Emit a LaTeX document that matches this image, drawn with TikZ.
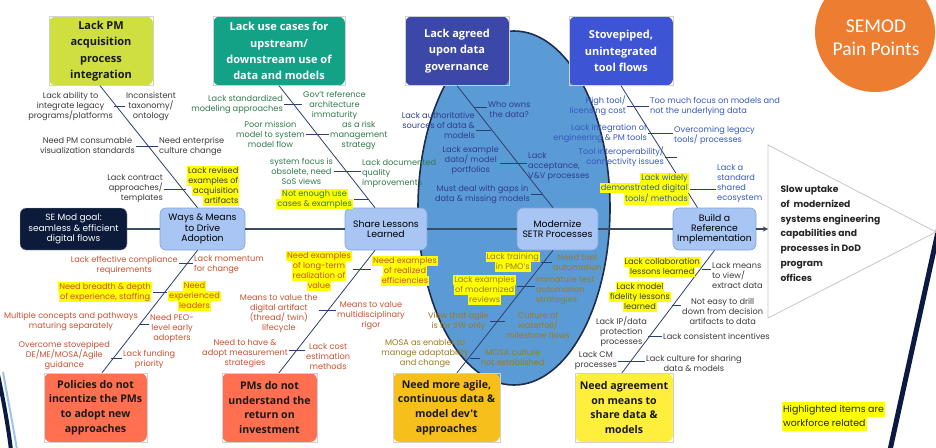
\documentclass[tikz,border=0pt]{standalone}
\usepackage{fontspec}
\setmainfont{Poppins}
\newfontfamily\titlefont{Open Sans}
\newfontfamily\badgefont{Carlito}
\setlength{\fboxsep}{0pt}
\definecolor{pmlime}{RGB}{206,223,63}
\definecolor{usecase}{RGB}{19,162,133}
\definecolor{govern}{RGB}{60,72,168}
\definecolor{stove}{RGB}{61,85,213}
\definecolor{policy}{RGB}{255,111,80}
\definecolor{agile}{RGB}{247,191,28}
\definecolor{agree}{RGB}{255,238,59}
\definecolor{stagefill}{RGB}{168,197,243}
\definecolor{stageedge}{RGB}{125,163,224}
\definecolor{goalfill}{RGB}{12,27,58}
\definecolor{lensfill}{RGB}{91,155,213}
\definecolor{lensedge}{RGB}{30,44,78}
\definecolor{bonecol}{RGB}{44,62,110}
\definecolor{spinecol}{RGB}{59,74,102}
\definecolor{badgeorange}{RGB}{237,125,49}
\definecolor{slidenavy}{RGB}{11,26,64}
\definecolor{hlyellow}{RGB}{255,255,0}
\definecolor{textdark}{RGB}{58,58,58}
\definecolor{textgreen}{RGB}{47,122,74}
\definecolor{textnavy}{RGB}{46,60,140}
\definecolor{textblue}{RGB}{53,88,190}
\definecolor{textred}{RGB}{201,80,47}
\definecolor{textolive}{RGB}{154,123,31}
\newcommand{\hlt}[1]{\colorbox{hlyellow}{\kern1pt\strut#1\kern1pt}}
\begin{document}
\begin{tikzpicture}[x=1pt, y=-1pt,
    lbl/.style={font=\fontsize{8.2}{10}\selectfont, inner sep=1pt},
    cause/.style={rounded corners=7pt, minimum height=69pt, align=center, inner sep=2pt,
      font=\titlefont\bfseries\fontsize{11}{16.3}\selectfont},
    causelow/.style={cause, font=\titlefont\bfseries\fontsize{10.6}{14.7}\selectfont},
    boxframe/.style={draw=black!18, line width=0.5pt},
    stage/.style={rounded corners=6pt, fill=stagefill, draw=stageedge, line width=0.6pt,
      minimum height=42pt, align=center, inner sep=2pt, font=\fontsize{9.3}{10.3}\selectfont},
    bone/.style={draw=bonecol, line width=0.8pt},
    rib/.style={draw=bonecol, line width=0.9pt},
    spine/.style={draw=spinecol, line width=1.3pt}]
  \useasboundingbox (0,0) rectangle (936,447);
  % slide decoration
  \draw[line width=2pt, lensfill!60] (3,372) .. controls (8,400) and (13,425) .. (17,450);
  \draw[line width=4pt, slidenavy] (-3,370) .. controls (3,398) and (8,425) .. (11,450);
  \draw[line width=5pt, slidenavy] (941,218) -- (890,450);
  % SETR lens
  \draw[fill=lensfill, draw=lensedge, line width=1.6pt] (514,208) ellipse [x radius=96pt, y radius=177pt];
  % badge
  \fill[badgeorange] (875,32) circle (60pt);
  \node[font=\badgefont\fontsize{19.5}{23}\selectfont, text=white, align=center] (badge) at (876,38) {SEMOD\\ Pain Points};
  % effect
  \draw[fill=white, draw=black!22, line width=0.8pt] (768,145) -- (936,232) -- (768,318) -- cycle;
  \coordinate (effect) at (768,229);
  \node[font=\bfseries\fontsize{9.2}{14.8}\selectfont, text=black!85, align=left, anchor=west] (effecttext) at (777,233.5)
    {Slow uptake\\ of~ modernized\\ systems engineering\\ capabilities and\\ processes in DoD\\ program\\ offices};
  % cause boxes
  \node[cause, fill=pmlime, text=black!90, minimum width=104pt] (pm) at (101,51) {Lack PM\\ acquisition\\ process\\ integration};
  \node[cause, fill=usecase, text=white, minimum width=132pt] (usecases) at (279,51) {Lack use cases for\\ upstream/\\ downstream use of\\ data and models};
  \node[cause, fill=govern, text=white, minimum width=104pt] (govern) at (457,51) {Lack agreed\\ upon data\\ governance};
  \node[cause, fill=stove, text=white, minimum width=104pt] (stove) at (621,51) {Stovepiped,\\ unintegrated\\ tool flows};
  \node[causelow, fill=policy, text=black!90, minimum width=103pt] (policy) at (95.5,407.5) {Policies do not\\ incentize the PMs\\ to adopt new\\ approaches};
  \node[causelow, fill=policy, text=black!90, minimum width=95pt] (roi) at (269.5,407.5) {PMs do not\\ understand the\\ return on\\ investment};
  \node[causelow, fill=agile, text=black!90, minimum width=107pt] (agile) at (446.5,407.5) {Need more agile,\\ continuous data \&\\ model dev't\\ approaches};
  \node[causelow, fill=agree, text=black!90, minimum width=98pt] (agree) at (624,407.5) {Need agreement\\ on means to\\ share data \&\\ models};
  \draw[boxframe] (pm.north west) rectangle (pm.south east);
  \draw[boxframe] (usecases.north west) rectangle (usecases.south east);
  \draw[boxframe] (govern.north west) rectangle (govern.south east);
  \draw[boxframe] (stove.north west) rectangle (stove.south east);
  \draw[boxframe] (policy.north west) rectangle (policy.south east);
  \draw[boxframe] (roi.north west) rectangle (roi.south east);
  \draw[boxframe] (agile.north west) rectangle (agile.south east);
  \draw[boxframe] (agree.north west) rectangle (agree.south east);
  % spine
  \node[rounded corners=6pt, fill=goalfill, draw=black!30, minimum width=107pt, minimum height=42pt, align=center,
    text=white, font=\fontsize{9}{10.4}\selectfont] (goal) at (73.5,229) {SE Mod goal:\\ seamless \& efficient\\ digital flows};
  \node[stage, minimum width=85pt] (ways) at (202.5,229) {Ways \& Means\\ to Drive\\ Adoption};
  \node[stage, minimum width=82pt] (share) at (386,229) {Share Lessons\\ Learned};
  \node[stage, minimum width=81pt] (setr) at (557.5,229) {Modernize\\ SETR Processes};
  \node[stage, minimum width=83pt] (refimpl) at (714.5,229) {Build a\\ Reference\\ Implementation};
  \draw[spine] (goal) -- (ways) -- (share) -- (setr) -- (refimpl);
  \draw[spine, -stealth] (refimpl) -- (effect);
  % bones
  \draw[bone] ([xshift=-1pt]pm.south) -- ([xshift=-5pt]ways.north);
  \draw[bone] (usecases.south) -- ([xshift=-11pt]share.north);
  \draw[bone] (govern.south) -- ([xshift=-4.5pt]setr.north);
  \draw[bone] (stove.south) -- ([xshift=-17pt]refimpl.north);
  \draw[bone] ([xshift=-5pt]ways.south) -- ([xshift=6.5pt]policy.north);
  \draw[bone] ([xshift=-11pt]share.south) -- ([xshift=9.5pt]roi.north);
  \draw[bone] ([xshift=-4.5pt]setr.south) -- ([xshift=10.5pt]agile.north);
  \draw[bone] (refimpl.south) -- ([xshift=-2pt]agree.north);
  % Lack PM acquisition process integration
  \node[lbl, text=textdark, align=center, anchor=east] (a1l) at (114,106) {Lack ability to\\ integrate legacy\\ programs/platforms};
  \node[lbl, text=textdark, align=center, anchor=west] (a1r) at (125,106) {Inconsistent\\ taxonomy/\\ ontology};
  \draw[rib] (a1l.east) -- (a1r.west);
  \node[lbl, text=textdark, align=center, anchor=east] (a2l) at (136,146) {Need PM consumable\\ visualization standards};
  \node[lbl, text=textdark, align=left, anchor=west] (a2r) at (158,146) {Need enterprise\\ culture change};
  \draw[rib] (a2l.east) -- (a2r.west);
  \node[lbl, text=textdark, align=right, anchor=east] (a3l) at (164,189) {Lack contract\\ approaches/\\ templates};
  \node[lbl, text=textdark, align=right, anchor=west] (a3r) at (186,186) {\hlt{Lack revised}\\ \hlt{examples of}\\ \hlt{acquisition}\\ \hlt{artifacts}};
  \draw[rib] (a3l.east) -- (a3l.east -| a3r.west);
  % Lack use cases
  \node[lbl, text=textgreen, align=right, anchor=east] (b1l) at (284,104) {Lack standardized\\ modeling approaches};
  \node[lbl, text=textgreen, align=center, anchor=west] (b1r) at (302,105) {Gov't reference\\ architecture\\ immaturity};
  \draw[rib] (b1l.east) -- (b1l.east -| b1r.west);
  \node[lbl, text=textgreen, align=center, anchor=east] (b2l) at (306,134) {Poor mission\\ model to system\\ model flow};
  \node[lbl, text=textgreen, align=center, anchor=west] (b2r) at (329,135) {as a risk\\ management\\ strategy};
  \draw[rib] (b2l.east) -- (b2l.east -| b2r.west);
  \node[lbl, text=textgreen, align=center, anchor=east] (b3l) at (334,171) {system focus is\\ obsolete, need\\ SoS views};
  \node[lbl, text=textgreen, align=left, anchor=west] (b3r) at (361,174) {Lack documented\\ quality\\ improvements};
  \draw[rib] (b3l.east) -- (b3l.east -| b3r.west);
  \node[lbl, text=textgreen, align=center, anchor=east] (b4l) at (354,199) {\hlt{Not enough use}\\ \hlt{cases \& examples}};
  \coordinate (b4r) at (368,199);
  \draw[rib] (b4l.east) -- (b4r);
  % Lack agreed upon data governance
  \coordinate (c1l) at (474,107);
  \node[lbl, text=textnavy, align=center, anchor=west] (c1r) at (487,110) {Who owns\\ the data?};
  \draw[rib] (c1l) -- (c1l -| c1r.west);
  \node[lbl, text=textnavy, align=right, anchor=east] (c2l) at (476,125) {Lack authoritative\\ sources of data \&\\ models};
  \coordinate (c2r) at (491,130);
  \draw[rib] (c2l.east |- c2r) -- (c2r);
  \node[lbl, text=textnavy, align=center, anchor=east] (c3l) at (500,161) {Lack example\\ data/ model\\ portfolios};
  \node[lbl, text=textnavy, align=left, anchor=west] (c3r) at (527,167) {Lack\\ acceptance,\\ V\&V processes};
  \draw[rib] ([yshift=-2pt]c3l.east) -- ([yshift=-2pt]c3l.east -| c3r.west);
  \node[lbl, text=textnavy, align=center, anchor=east] (c4l) at (531,194) {Must deal with gaps in\\ data \& missing models};
  \coordinate (c4r) at (542,194);
  \draw[rib] (c4l.east) -- (c4r);
  % Stovepiped tool flows
  \node[lbl, text=textblue, align=right, anchor=east] (d1l) at (627,106) {High tool/\\ licensing cost};
  \node[lbl, text=textblue, align=left, anchor=west] (d1r) at (649,106) {Too much focus on models and\\ not the underlying data};
  \draw[rib] (d1l.east) -- (d1r.west);
  \node[lbl, text=textblue, align=right, anchor=east] (d2l) at (648,133) {Lack integration of\\ engineering \& PM tools};
  \node[lbl, text=textblue, align=left, anchor=west] (d2r) at (673,135) {Overcoming legacy\\ tools/ processes};
  \draw[rib] (d2l.east) -- (d2l.east -| d2r.west);
  \node[lbl, text=textblue, align=right, anchor=east] (d3l) at (665,157) {Tool interoperability/\\ connectivity issues};
  \coordinate (d3r) at (677,157);
  \draw[rib] (d3l.east) -- (d3r);
  \node[lbl, text=textblue, align=right, anchor=east] (d4l) at (690,189) {\hlt{Lack widely}\\ \hlt{demonstrated digital}\\ \hlt{tools/ methods}};
  \node[lbl, text=textblue, align=left, anchor=west] (d4r) at (716,184) {Lack a\\ standard\\ shared\\ ecosystem};
  \draw[rib] (d4l.east) -- (d4l.east -| d4r.west);
  % Policies do not incentize
  \node[lbl, text=textred, align=center, anchor=east] (e1l) at (179,265) {Lack effective compliance\\ requirements};
  \node[lbl, text=textred, align=left, anchor=west] (e1r) at (193,265) {Lack momentum\\ for change};
  \draw[rib] ([yshift=2pt]e1l.east) -- ([yshift=2pt]e1l.east -| e1r.west);
  \node[lbl, text=textred, align=center, anchor=east] (e2l) at (153,292) {\hlt{Need breadth \& depth}\\ \hlt{of experience, staffing}};
  \node[lbl, text=textred, align=center, anchor=west] (e2r) at (167,296) {\hlt{Need}\\ \hlt{experienced}\\ \hlt{leaders}};
  \draw[rib] (e2l.east) -- (e2l.east -| e2r.west);
  \node[lbl, text=textred, align=center, anchor=east] (e3l) at (139,321) {Multiple concepts and pathways\\ maturing separately};
  \node[lbl, text=textred, align=center, anchor=west] (e3r) at (149,329) {Need PEO-\\ level early\\ adopters};
  \draw[rib] ([yshift=-3pt]e3l.east) -- ([yshift=-3pt]e3l.east -| e3r.west);
  \node[lbl, text=textred, align=center, anchor=east] (e4l) at (111,355) {Overcome stovepiped\\ DE/ME/MOSA/Agile\\ guidance};
  \node[lbl, text=textred, align=center, anchor=west] (e4r) at (122,359) {Lack funding\\ priority};
  \draw[rib] ([yshift=-3pt]e4l.east) -- ([yshift=-3pt]e4l.east -| e4r.west);
  % PMs do not understand ROI
  \node[lbl, text=textred, align=center, anchor=east] (f1l) at (353,271) {\hlt{Need examples}\\ \hlt{of long-term}\\ \hlt{realization of}\\ \hlt{value}};
  \node[lbl, text=textred, align=center, anchor=west] (f1r) at (371,271) {\hlt{Need examples}\\ \hlt{of realized}\\ \hlt{efficiencies}};
  \draw[rib] ([yshift=2pt]f1l.east) -- ([yshift=2pt]f1r.west);
  \node[lbl, text=textred, align=center, anchor=east] (f2l) at (319,314) {Means to value the\\ digital artifact\\ (thread/ twin)\\ lifecycle};
  \node[lbl, text=textred, align=center, anchor=west] (f2r) at (336,316) {Means to value\\ multidisciplinary\\ rigor};
  \draw[rib] ([yshift=4pt]f2l.east) -- ([yshift=4pt]f2l.east -| f2r.west);
  \node[lbl, text=textred, align=center, anchor=east] (f3l) at (289,354) {Need to have \&\\ adopt measurement\\ strategies};
  \node[lbl, text=textred, align=center, anchor=west] (f3r) at (305,356) {Lack cost\\ estimation\\ methods};
  \draw[rib] ([yshift=4pt]f3l.east) -- ([yshift=4pt]f3l.east -| f3r.west);
  % Need more agile approaches
  \node[lbl, text=textolive, align=center, anchor=east] (g1l) at (541,262) {\hlt{Lack training}\\ \hlt{in PMO's}};
  \node[lbl, text=textolive, align=center, anchor=west] (g1r) at (552,262) {Need tool\\ automation};
  \draw[rib] (g1l.east) -- (g1r.west);
  \node[lbl, text=textolive, align=center, anchor=east] (g2l) at (517,290) {\hlt{Lack examples}\\ \hlt{of modernized}\\ \hlt{reviews}};
  \node[lbl, text=textolive, align=left, anchor=west] (g2r) at (535,291) {Immature test\\ automation\\ strategies};
  \draw[rib] ([yshift=4pt]g2l.east) -- ([yshift=4pt]g2l.east -| g2r.west);
  \node[lbl, text=textolive, align=center, anchor=east] (g3l) at (490,321) {View that agile\\ is for SW only};
  \node[lbl, text=textolive, align=center, anchor=west] (g3r) at (505,325) {Culture of\\ waterfall/\\ milestone flows};
  \draw[rib] (g3l.east) -- (g3l.east -| g3r.west);
  \node[lbl, text=textolive, align=center, anchor=east] (g4l) at (470,354) {MOSA as enabler to\\ manage adaptability\\ and change};
  \node[lbl, text=textolive, align=center, anchor=west] (g4r) at (480,357) {MOSA culture\\ not established};
  \draw[rib] ([yshift=-4pt]g4l.east) -- ([yshift=-4pt]g4l.east -| g4r.west);
  % Need agreement on means to share
  \node[lbl, text=textdark, align=center, anchor=east] (h1l) at (702,267) {\hlt{Lack collaboration}\\ \hlt{lessons learned}};
  \node[lbl, text=textdark, align=left, anchor=west] (h1r) at (711,275) {Lack means\\ to view/\\ extract data};
  \draw[rib] ([yshift=-2pt]h1l.east) -- ([yshift=-2pt]h1l.east -| h1r.west);
  \node[lbl, text=textdark, align=center, anchor=east] (h2l) at (672,297) {\hlt{Lack model}\\ \hlt{fidelity lessons}\\ \hlt{learned}};
  \node[lbl, text=textdark, align=center, anchor=west] (h2r) at (681,311) {Not easy to drill\\ down from decision\\ artifacts to data};
  \draw[rib] ([yshift=-8pt]h2l.east) -- ([yshift=-8pt]h2l.east -| h2r.west);
  \node[lbl, text=textdark, align=center, anchor=east] (h3l) at (648,332) {Lack IP/data\\ protection\\ processes};
  \node[lbl, text=textdark, align=left, anchor=west] (h3r) at (662,336) {Lack consistent incentives};
  \draw[rib] (h3l.east |- h3r.west) -- (h3r.west);
  \node[lbl, text=textdark, align=center, anchor=east] (h4l) at (618,361) {Lack CM\\ processes};
  \node[lbl, text=textdark, align=center, anchor=west] (h4r) at (645,363) {Lack culture for sharing\\ data \& models};
  \draw[rib] (h4l.east) -- (h4l.east -| h4r.west);
  % legend
  \node[font=\fontsize{9.4}{14.3}\selectfont, text=black!85, align=left, anchor=north west, inner sep=0pt] (legend) at (782,402)
    {\hlt{Highlighted items are}\\ \hlt{workforce related}};
\end{tikzpicture}
\end{document}
